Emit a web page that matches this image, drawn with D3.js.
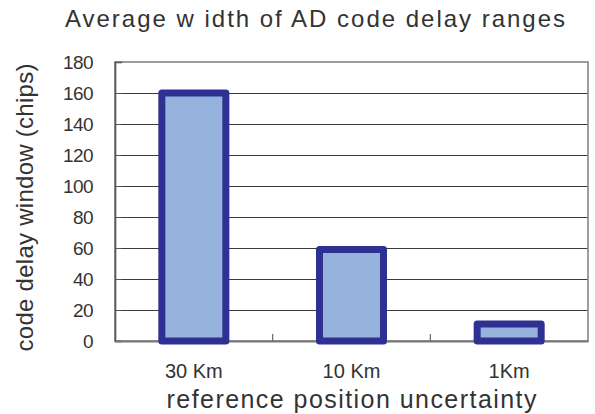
<!DOCTYPE html>
<html>
<head>
<meta charset="utf-8">
<script src="https://cdn.jsdelivr.net/npm/d3@7/dist/d3.min.js"></script>
<style>
  html, body { margin: 0; padding: 0; background: #fff; }
  svg { display: block; }
  text { font-family: "Liberation Sans", Arial, sans-serif; fill: #333; }
</style>
</head>
<body>
<div id="chart"></div>
<script>
const categories = ["30 Km", "10 Km", "1Km"];
const values = [160, 59, 11];
const yTicks = [0, 20, 40, 60, 80, 100, 120, 140, 160, 180];
const titleText = "Average w idth of AD code delay ranges";
const xTitleText = "reference position uncertainty";
const yTitleText = "code delay window (chips)";

const W = 595, H = 414;
const m = { left: 115, right: 7, top: 62, bottom: 73 };

const svg = d3.select("#chart").append("svg").attr("width", W).attr("height", H);

const x = d3.scaleBand().domain(categories).range([m.left, W - m.right]).paddingInner(0.594).paddingOuter(0.297);
const xb = d3.scaleBand().domain(categories).range([m.left, W - m.right]).padding(0);
const y = d3.scaleLinear().domain([0, 180]).range([H - m.bottom, m.top]);

// gridlines
svg.append("g").selectAll("line").data(yTicks.filter(d => d > 0 && d < 180)).join("line")
  .attr("x1", m.left).attr("x2", W - m.right)
  .attr("y1", d => Math.round(y(d)) + 0.5).attr("y2", d => Math.round(y(d)) + 0.5)
  .attr("stroke", "#3a3a3a").attr("stroke-width", 1);

// frame
svg.append("rect").attr("x", m.left).attr("y", y(180)).attr("width", W - m.right - m.left)
  .attr("height", y(0) - y(180)).attr("fill", "none").attr("stroke", "#8c837e").attr("stroke-width", 1.6);

// y axis
const yAxis = d3.axisLeft(y).tickValues(yTicks).tickSize(-7).tickPadding(22);
const gy = svg.append("g").attr("transform", `translate(${m.left},0)`).call(yAxis);
gy.select(".domain").attr("stroke", "#555").attr("stroke-width", 1.6);
gy.selectAll(".tick line").attr("stroke", "#555");
gy.selectAll(".tick text").attr("font-size", 19).attr("letter-spacing", -0.6)
  .attr("fill", "#333").attr("font-family", "Liberation Sans, Arial, sans-serif");

// x axis ticks at band boundaries
const xAxis = d3.axisBottom(x).tickSize(0).tickPadding(0);
const gx = svg.append("g").attr("transform", `translate(0,${y(0)})`).call(xAxis);
gx.select(".domain").attr("stroke", "#777").attr("stroke-width", 1.8);
gx.selectAll(".tick text").attr("font-size", 20).attr("dy", 0).attr("y", 36.5)
  .attr("fill", "#333").attr("font-family", "Liberation Sans, Arial, sans-serif");
svg.append("g").selectAll("line").data(categories.slice(1)).join("line")
  .attr("x1", d => xb(d)).attr("x2", d => xb(d))
  .attr("y1", y(0)).attr("y2", y(0) - 7)
  .attr("stroke", "#666").attr("stroke-width", 1.2);

// bars
svg.append("g").selectAll("rect").data(values).join("rect")
  .attr("x", (d, i) => x(categories[i]))
  .attr("width", x.bandwidth())
  .attr("y", d => y(d))
  .attr("height", d => y(0) - y(d))
  .attr("fill", "#95b3dd")
  .attr("stroke", "#2e3192")
  .attr("stroke-width", 7)
  .attr("stroke-linejoin", "round");

// titles
svg.append("text").attr("x", 65).attr("y", 27.3).attr("font-size", 24)
  .attr("textLength", 500).attr("lengthAdjust", "spacing").text(titleText);

svg.append("text").attr("x", (m.left + W - m.right) / 2).attr("y", 408.3).attr("text-anchor", "middle")
  .attr("font-size", 25).attr("textLength", 370).attr("lengthAdjust", "spacing").text(xTitleText);

svg.append("text").attr("transform", "translate(33,207.5) rotate(-90)").attr("text-anchor", "middle")
  .attr("font-size", 24).attr("textLength", 288).attr("lengthAdjust", "spacing").text(yTitleText);
</script>
</body>
</html>
